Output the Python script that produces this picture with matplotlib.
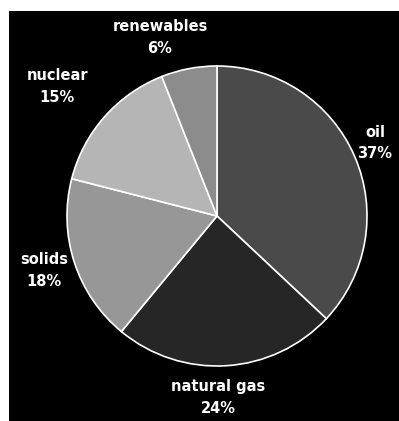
import numpy as np
import matplotlib.pyplot as plt
from matplotlib.patches import Rectangle

# energy mix, clockwise from 12 o'clock
sources = ['oil', 'natural gas', 'solids', 'nuclear', 'renewables']
shares = [37, 24, 18, 15, 6]
colors = ['#4a4a4a', '#262626', '#979797', '#b5b5b5', '#8c8c8c']
# label placement: distance in pie radii, and angle nudge in degrees
label_dist = [1.16, 1.21, 1.21, 1.37, 1.25]
label_turn = [1.4, -3.3, -0.5, 2.4, 6.9]

W, H = 399, 421
fig = plt.figure(figsize=(W / 100, H / 100), dpi=100, facecolor='black')
# white strips along top and left
fig.patches.append(Rectangle((0, 0), 9 / W, 1, transform=fig.transFigure,
                             facecolor='white', edgecolor='none'))
fig.patches.append(Rectangle((0, 1 - 11 / H), 1, 11 / H, transform=fig.transFigure,
                             facecolor='white', edgecolor='none'))

ax = fig.add_axes([9 / W, 0, (W - 9) / W, (H - 11) / H])
ax.set_facecolor('black')

cx, cy, r = 217, 205, 150
wedges, _ = ax.pie(shares, colors=colors, startangle=90, counterclock=False,
                   center=(cx, cy), radius=r, frame=True,
                   wedgeprops=dict(edgecolor='white', linewidth=1.2))
ax.set_xlim(9, W)
ax.set_ylim(0, H - 11)
ax.set_aspect('auto')
ax.set_xticks([])
ax.set_yticks([])
for s in ax.spines.values():
    s.set_visible(False)

for w, name, val, d, t in zip(wedges, sources, shares, label_dist, label_turn):
    ang = np.deg2rad((w.theta1 + w.theta2) / 2 + t)
    x = cx + d * r * np.cos(ang)
    y = cy + d * r * np.sin(ang)
    ax.text(x, y, f'{name}\n{val}%', color='white', fontsize=10.5,
            fontweight='bold', ha='center', va='center', linespacing=1.55)

fig.savefig('out.png', dpi=100, facecolor='black')
